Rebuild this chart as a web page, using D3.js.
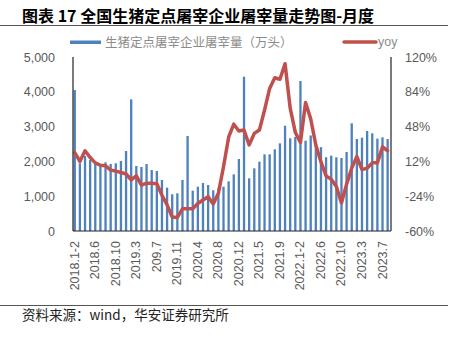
<!DOCTYPE html>
<html><head><meta charset="utf-8">
<script src="https://cdn.jsdelivr.net/npm/d3@7/dist/d3.min.js"></script>
<style>
html,body{margin:0;padding:0;background:#fff;}
svg{display:block;}
</style></head>
<body>
<svg id="c" width="461" height="338"></svg>
<script>
const categories = [
"2018.1-2","2018.3","2018.4","2018.5","2018.6","2018.7","2018.8","2018.9","2018.10","2018.11","2018.12",
"2019.1-2","2019.3","2019.4","2019.5","2019.6","209.7","2019.8","2019.9","2019.10","2019.11","2019.12",
"2020.1-2","2020.3","2020.4","2020.5","2020.6","2020.7","2020.8","2020.9","2020.10","2020.11","2020.12",
"2021.1-2","2021.3","2021.4","2021.5","2021.6","2021.7","2021.8","2021.9","2021.10","2021.11","2021.12",
"2022.1-2","2022.3","2022.4","2022.5","2022.6","2022.7","2022.8","2022.9","2022.10","2022.11","2022.12",
"2023.1-2","2023.3","2023.4","2023.5","2023.6","2023.7","2023.8"];
const slaughter = [
4050,1945,2155,2040,1945,1897,1973,1925,1945,2011,2299,
3783,1868,1839,1925,1753,1724,1466,1245,1054,1083,1466,
2730,1159,1274,1379,1322,1169,1226,1274,1427,1628,2069,
4435,1513,1801,1992,2203,2203,2347,2519,3026,2663,2700,
4310,2595,2745,2540,2410,2120,2165,2117,2098,2270,3094,
2644,2682,2874,2807,2653,2692,2644];
const yoy = [
21,12,23,16,10.5,8,7.5,3,2,0.5,-1,
-7,-3,-12.5,-10.5,-10.5,-11,-23,-33,-45.5,-46,-37,
-37,-37,-31.5,-28,-24.5,-32,-21,6.5,37,50.5,43.5,
44.5,29,41,44.5,65,87.5,98.5,97,113,67,42,
31.5,73,56,29,11.5,-3,-6.5,-14,-31,-11.5,5,
17,3.5,5,10.5,10.5,27,23];
const leftTicks = [0,1000,2000,3000,4000,5000];
const rightTicks = [-60,-24,12,48,84,120];
const title = "图表 17 全国生猪定点屠宰企业屠宰量走势图-月度";
const legendBar = "生猪定点屠宰企业屠宰量（万头）";
const legendLine = "yoy";
const source = "资料来源：wind，华安证券研究所";

const svg = d3.select("#c");
const L = 73, R = 391, T = 57, B = 231;
const numFont = "'Liberation Sans', Arial, sans-serif";
const cjkFont = "'Noto Sans CJK SC', sans-serif";

const x = d3.scaleBand().domain(categories).range([L - 0.8, R - 0.8]);
const yL = d3.scaleLinear().domain([0, 5000]).range([B, T]);
const yR = d3.scaleLinear().domain([-60, 120]).range([B, T]);

// title
svg.append("text").attr("x", 22).attr("y", 22).attr("font-family", cjkFont)
  .attr("font-weight", "bold").attr("font-size", 16).attr("fill", "#000").text(title);
svg.append("line").attr("x1", 0).attr("x2", 448).attr("y1", 25.5).attr("y2", 25.5)
  .attr("stroke", "#555").attr("stroke-width", 1);

// legend
svg.append("rect").attr("x", 70).attr("y", 40.5).attr("width", 31).attr("height", 3.5).attr("fill", "#4f81bd");
svg.append("text").attr("x", 105).attr("y", 46.5).attr("font-family", cjkFont).attr("font-size", 12.5)
  .attr("fill", "#8c8c8c").text(legendBar);
svg.append("line").attr("x1", 344).attr("x2", 376).attr("y1", 42).attr("y2", 42)
  .attr("stroke", "#c0504d").attr("stroke-width", 3.5).attr("stroke-linecap", "round");
svg.append("text").attr("x", 378).attr("y", 45.5).attr("font-family", numFont).attr("font-size", 12.5)
  .attr("fill", "#8c8c8c").text(legendLine);

// bars
const bw = x.bandwidth() * 0.45;
svg.append("g").selectAll("rect").data(categories).join("rect")
  .attr("x", (d) => x(d) + x.bandwidth() / 2 - bw / 2)
  .attr("width", bw)
  .attr("y", (d, i) => yL(slaughter[i]))
  .attr("height", (d, i) => B - yL(slaughter[i]))
  .attr("fill", "#4f81bd");

// line
const line = d3.line().x((d, i) => x(categories[i]) + x.bandwidth() / 2).y((d) => yR(d));
svg.append("path").datum(yoy).attr("d", line).attr("fill", "none")
  .attr("stroke", "#c0504d").attr("stroke-width", 3.5).attr("stroke-linejoin", "round").attr("stroke-linecap", "round");

// axes
const gl = svg.append("g").attr("transform", `translate(${L - 18},0)`)
  .call(d3.axisLeft(yL).tickValues(leftTicks).tickSize(0).tickPadding(0).tickFormat(d3.format(",")));
gl.select(".domain").remove();
gl.selectAll("text").attr("font-family", numFont).attr("font-size", 12.5).attr("fill", "#595959");

const gr = svg.append("g").attr("transform", `translate(${R + 14},0)`)
  .call(d3.axisRight(yR).tickValues(rightTicks).tickSize(0).tickPadding(0).tickFormat((d) => d + "%"));
gr.select(".domain").remove();
gr.selectAll("text").attr("font-family", numFont).attr("font-size", 12.5).attr("fill", "#595959");

const gb = svg.append("g").attr("transform", `translate(0,${B})`)
  .call(d3.axisBottom(x).tickValues(categories.filter((d, i) => i % 4 === 0)).tickSize(0).tickPadding(0));
gb.select(".domain").remove();
gb.selectAll("text").attr("font-family", numFont).attr("font-size", 12.5).attr("fill", "#595959")
  .attr("text-anchor", "end").attr("dy", null).attr("dominant-baseline", "central")
  .attr("transform", "translate(0,10) rotate(-90)").attr("y", 0).attr("x", 0);

svg.append("line").attr("x1", L).attr("x2", L).attr("y1", T).attr("y2", B).attr("stroke", "#222").attr("stroke-width", 1.2);
svg.append("line").attr("x1", R).attr("x2", R).attr("y1", T).attr("y2", B).attr("stroke", "#222").attr("stroke-width", 1.2);
svg.append("line").attr("x1", L).attr("x2", R).attr("y1", B).attr("y2", B).attr("stroke", "#222").attr("stroke-width", 1.2);

// source
svg.append("line").attr("x1", 0).attr("x2", 448).attr("y1", 305.5).attr("y2", 305.5)
  .attr("stroke", "#555").attr("stroke-width", 1);
svg.append("text").attr("x", 22).attr("y", 320).attr("font-family", cjkFont).attr("font-size", 13.5)
  .attr("fill", "#222").text(source);
</script>
</body></html>
